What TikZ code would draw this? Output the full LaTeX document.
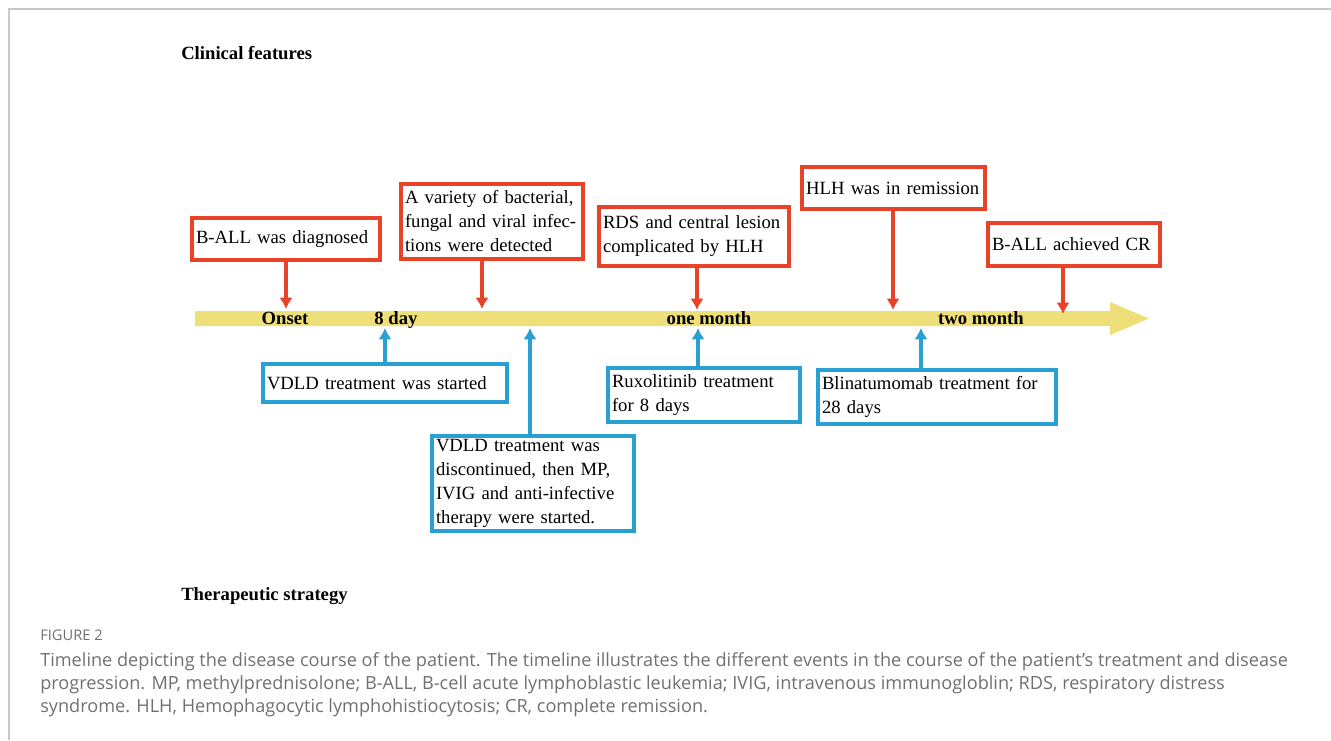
\documentclass[tikz,border=0pt]{standalone}
\usepackage{fontspec}
\setmainfont{Liberation Serif}
\newfontfamily\capfont{Open Sans}
\usetikzlibrary{arrows.meta,positioning}
\definecolor{evred}{RGB}{232,66,40}
\definecolor{trblue}{RGB}{40,160,212}
\definecolor{barcol}{RGB}{239,223,120}
\definecolor{capgray}{RGB}{112,112,112}
\definecolor{framegray}{RGB}{200,200,200}
\tikzstyle{event}=[draw=evred, line width=2.6pt, fill=white, align=left, inner xsep=3pt, inner ysep=2pt]
\tikzstyle{therapy}=[draw=trblue, line width=2.6pt, fill=white, align=left, inner xsep=3pt, inner ysep=2pt]
\tikzstyle{stamp}=[font=\fontsize{14}{18}\selectfont\bfseries, anchor=base, inner sep=0pt]
\tikzstyle{heading}=[font=\fontsize{14}{18}\selectfont\bfseries, anchor=base west, inner sep=0pt]
\tikzstyle{evarrow}=[->, draw=evred, line width=2.3pt]
\tikzstyle{trarrow}=[->, draw=trblue, line width=2.3pt]

\begin{document}
\begin{tikzpicture}[x=0.75pt,y=-0.75pt,>={Latex[length=8.5pt,width=10pt]},font=\fontsize{14}{18}\selectfont]
    \useasboundingbox (0,0) rectangle (1331,740);
    \draw[framegray, line width=0.8pt] (9,740) -- (9,9) -- (1331,9);
    % timeline bar
    \fill[barcol] (195,311) -- (1110,311) -- (1110,302) -- (1149,318.5) -- (1110,335) -- (1110,326) -- (195,326) -- cycle;
    \node [stamp] (onset) at (285,324) {Onset};
    \node [stamp] (day8) at (396,324) {8 day};
    \node [stamp] (month1) at (709,324) {one month};
    \node [stamp] (month2) at (981,324) {two month};
    \coordinate (e1) at (286,309);
    \coordinate (e2) at (482,309);
    \coordinate (e3) at (697,310);
    \coordinate (e4) at (893,310);
    \coordinate (e5) at (1063,314);
    \coordinate (t1) at (385,328);
    \coordinate (t2) at (530,328);
    \coordinate (t3) at (698,328);
    \coordinate (t4) at (921,328);
    % clinical features
    \node [heading] (clin) at (181,59) {Clinical features};
    \node [event, text width=135pt, minimum height=31.5pt] (diag) at (286,239) {B-ALL was diagnosed};
    \node [event, text width=130.5pt, minimum height=56pt] (infect) at (492,221.5) {A variety of bacterial,\\fungal and viral infec-\\tions were detected};
    \node [event, text width=136.5pt, minimum height=44pt] (rds) at (694,236.5) {RDS and central lesion\\complicated by HLH};
    \node [event, text width=131pt, minimum height=31.5pt] (hlh) at (893.5,188) {HLH was in remission};
    \node [event, text width=123pt, minimum height=32pt] (cr) at (1074,244.5) {B-ALL achieved CR};
    % therapeutic strategy
    \node [therapy, text width=177pt, minimum height=28.5pt] (vdld) at (385,383) {VDLD treatment was started};
    \node [therapy, text width=145.5pt, minimum height=71pt] (stop) at (533,483.5) {VDLD treatment was\\discontinued, then MP,\\IVIG and anti-infective\\therapy were started.};
    \node [therapy, text width=138pt, minimum height=40.5pt] (ruxo) at (704,395) {Ruxolitinib treatment\\for 8 days};
    \node [therapy, text width=172.5pt, minimum height=40.5pt] (blina) at (937,397) {Blinatumomab treatment for\\28 days};
    \node [heading] (thera) at (181,600) {Therapeutic strategy};
    \draw[evarrow] (diag.south -| e1) -- (e1);
    \draw[evarrow] (infect.south -| e2) -- (e2);
    \draw[evarrow] (rds.south -| e3) -- (e3);
    \draw[evarrow] (hlh.south -| e4) -- (e4);
    \draw[evarrow] (cr.south -| e5) -- (e5);
    \draw[trarrow] (vdld.north -| t1) -- (t1);
    \draw[trarrow] (stop.north -| t2) -- (t2);
    \draw[trarrow] (ruxo.north -| t3) -- (t3);
    \draw[trarrow] (blina.north -| t4) -- (t4);
    % caption
    \node [anchor=base west, inner sep=0pt, text=capgray, font=\capfont\fontsize{11}{13}\selectfont] (fig) at (40,640) {FIGURE 2};
    \node [anchor=north west, inner sep=0pt, align=left, text=capgray, font=\capfont\fontsize{13.6}{17.25}\selectfont] (cap) at (40,652) {Timeline depicting the disease course of the patient. The timeline illustrates the different events in the course of the patient’s treatment and disease\\progression. MP, methylprednisolone; B-ALL, B-cell acute lymphoblastic leukemia; IVIG, intravenous immunogloblin; RDS, respiratory distress\\syndrome. HLH, Hemophagocytic lymphohistiocytosis; CR, complete remission.};
\end{tikzpicture}
\end{document}
